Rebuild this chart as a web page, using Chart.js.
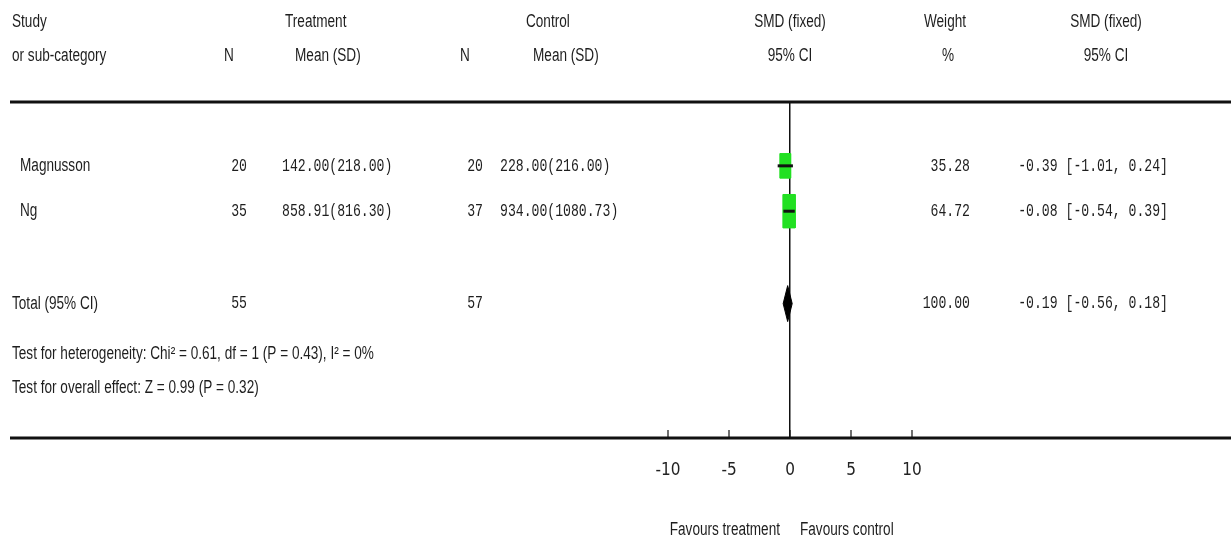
<!DOCTYPE html>
<html>
<head>
<meta charset="utf-8">
<script src="https://cdn.jsdelivr.net/npm/chart.js@4.4.0/dist/chart.umd.min.js"></script>
<style>
  html, body { margin: 0; padding: 0; background: #fff; }
  #wrap { width: 1231px; height: 546px; position: relative; }
</style>
</head>
<body>
<div id="wrap"><canvas id="forest"></canvas></div>
<script>
// ---- values ----
const studies = ['Magnusson', 'Ng'];
const treatN = [20, 35];
const treatMean = [142.00, 858.91];
const treatSD = [218.00, 816.30];
const ctrlN = [20, 37];
const ctrlMean = [228.00, 934.00];
const ctrlSD = [216.00, 1080.73];
const smd = [-0.39, -0.08];
const ciLow = [-1.01, -0.54];
const ciHigh = [0.24, 0.39];
const weights = [35.28, 64.72];

const totalN = [55, 57];
const totalWeight = 100.00;
const totalSmd = -0.19;
const totalCi = [-0.56, 0.18];
const heterogeneity = { chi2: 0.61, df: 1, p: 0.43, i2: 0 };
const overallEffect = { z: 0.99, p: 0.32 };

const xTicks = [-10, -5, 0, 5, 10];

// ---- layout (rows in y-scale units, 0 = top rule) ----
const Y_MAX = 8;
const studyRows = [1.52, 2.6];
const totalRow = 4.8;
const hetRow = 5.99;
const overallRow = 6.81;
const PX_X = (912 - 668) / 20;     // pixels per SMD unit
const PX_Y = (438 - 102) / Y_MAX;  // pixels per row unit

const INK = '#1e1e1e';
const GREEN = '#22e022';
const SANS = '18px "Liberation Sans", Arial, sans-serif';
const MONO = '18px "Liberation Mono", "DejaVu Sans Mono", monospace';
const SANS_SX = 0.755;
const MONO_SX = 0.73;

// square sized by weight, drawn as a filled polygon on the scales
function squareFor(i) {
  const hw = (9 + weights[i] * 0.05) / 2 / PX_X;
  const hh = (14 + weights[i] * 0.3) / 2 / PX_Y;
  const x = smd[i], y = studyRows[i];
  return [
    { x: x - hw, y: y - hh }, { x: x + hw, y: y - hh },
    { x: x + hw, y: y + hh }, { x: x - hw, y: y + hh }, { x: x - hw, y: y - hh }
  ];
}

const datasets = [];
studies.forEach((s, i) => {
  datasets.push({
    label: s + ' weight',
    data: squareFor(i),
    borderColor: GREEN, backgroundColor: GREEN, borderWidth: 1,
    fill: 'shape', pointRadius: 0, tension: 0, order: 3
  });
  datasets.push({
    label: s + ' CI',
    data: [{ x: ciLow[i], y: studyRows[i] }, { x: ciHigh[i], y: studyRows[i] }],
    borderColor: '#111', borderWidth: 3, fill: false, pointRadius: 0, order: 1
  });
});

const dh = 18 / PX_Y;
datasets.push({
  label: 'Total',
  data: [
    { x: totalCi[0], y: totalRow }, { x: totalSmd, y: totalRow - dh },
    { x: totalCi[1], y: totalRow }, { x: totalSmd, y: totalRow + dh },
    { x: totalCi[0], y: totalRow }
  ],
  borderColor: '#000', backgroundColor: '#000', borderWidth: 1,
  fill: 'shape', pointRadius: 0, tension: 0, order: 2
});

function txt(ctx, s, x, y, align, font, sx) {
  ctx.save();
  ctx.font = font;
  ctx.fillStyle = INK;
  ctx.textBaseline = 'middle';
  ctx.textAlign = 'left';
  const w = ctx.measureText(s).width * sx;
  const x0 = align === 'right' ? x - w : align === 'center' ? x - w / 2 : x;
  ctx.translate(x0, y);
  ctx.scale(sx, 1);
  ctx.fillText(s, 0, 0);
  ctx.restore();
}

const meanSd = (m, sd) => m.toFixed(2) + '(' + sd.toFixed(2) + ')';
const ciText = (e, lo, hi) => e.toFixed(2) + ' [' + lo.toFixed(2) + ', ' + hi.toFixed(2) + ']';

const forestTable = {
  id: 'forestTable',
  afterDraw(chart) {
    const { ctx, chartArea, scales } = chart;
    const xs = scales.x, ys = scales.y;
    const x0 = xs.getPixelForValue(0);

    // rules
    ctx.save();
    ctx.strokeStyle = '#111';
    ctx.lineWidth = 3;
    [chartArea.top, chartArea.bottom].forEach(y => {
      ctx.beginPath(); ctx.moveTo(10, y); ctx.lineTo(1231, y); ctx.stroke();
    });
    ctx.lineWidth = 1.2;
    xTicks.forEach(v => {
      const px = xs.getPixelForValue(v);
      ctx.beginPath(); ctx.moveTo(px, chartArea.bottom - 8); ctx.lineTo(px, chartArea.bottom); ctx.stroke();
    });
    ctx.restore();

    // headers
    const h1 = 22, h2 = 56;
    txt(ctx, 'Study', 12, h1, 'left', SANS, SANS_SX);
    txt(ctx, 'or sub-category', 12, h2, 'left', SANS, SANS_SX);
    txt(ctx, 'Treatment', 285, h1, 'left', SANS, SANS_SX);
    txt(ctx, 'N', 229, h2, 'center', SANS, SANS_SX);
    txt(ctx, 'Mean (SD)', 295, h2, 'left', SANS, SANS_SX);
    txt(ctx, 'Control', 526, h1, 'left', SANS, SANS_SX);
    txt(ctx, 'N', 465, h2, 'center', SANS, SANS_SX);
    txt(ctx, 'Mean (SD)', 533, h2, 'left', SANS, SANS_SX);
    txt(ctx, 'SMD (fixed)', x0, h1, 'center', SANS, SANS_SX);
    txt(ctx, '95% CI', x0, h2, 'center', SANS, SANS_SX);
    txt(ctx, 'Weight', 945, h1, 'center', SANS, SANS_SX);
    txt(ctx, '%', 948, h2, 'center', SANS, SANS_SX);
    txt(ctx, 'SMD (fixed)', 1106, h1, 'center', SANS, SANS_SX);
    txt(ctx, '95% CI', 1106, h2, 'center', SANS, SANS_SX);

    // study rows
    studies.forEach((s, i) => {
      const y = ys.getPixelForValue(studyRows[i]);
      txt(ctx, s, 20, y, 'left', SANS, SANS_SX);
      txt(ctx, String(treatN[i]), 247, y, 'right', MONO, MONO_SX);
      txt(ctx, meanSd(treatMean[i], treatSD[i]), 282, y, 'left', MONO, MONO_SX);
      txt(ctx, String(ctrlN[i]), 483, y, 'right', MONO, MONO_SX);
      txt(ctx, meanSd(ctrlMean[i], ctrlSD[i]), 500, y, 'left', MONO, MONO_SX);
      txt(ctx, weights[i].toFixed(2), 970, y, 'right', MONO, MONO_SX);
      txt(ctx, ciText(smd[i], ciLow[i], ciHigh[i]), 1168, y, 'right', MONO, MONO_SX);
    });

    // total row
    const yt = ys.getPixelForValue(totalRow);
    txt(ctx, 'Total (95% CI)', 12, yt, 'left', SANS, SANS_SX);
    txt(ctx, String(totalN[0]), 247, yt, 'right', MONO, MONO_SX);
    txt(ctx, String(totalN[1]), 483, yt, 'right', MONO, MONO_SX);
    txt(ctx, totalWeight.toFixed(2), 970, yt, 'right', MONO, MONO_SX);
    txt(ctx, ciText(totalSmd, totalCi[0], totalCi[1]), 1168, yt, 'right', MONO, MONO_SX);

    const h = heterogeneity;
    txt(ctx, 'Test for heterogeneity: Chi\u00b2 = ' + h.chi2.toFixed(2) + ', df = ' + h.df +
      ' (P = ' + h.p.toFixed(2) + '), I\u00b2 = ' + h.i2 + '%', 12, ys.getPixelForValue(hetRow), 'left', SANS, SANS_SX);
    txt(ctx, 'Test for overall effect: Z = ' + overallEffect.z.toFixed(2) + ' (P = ' + overallEffect.p.toFixed(2) + ')',
      12, ys.getPixelForValue(overallRow), 'left', SANS, SANS_SX);

    // direction labels under the axis
    txt(ctx, 'Favours treatment', x0 - 10, 530, 'right', SANS, SANS_SX);
    txt(ctx, 'Favours control', x0 + 10, 530, 'left', SANS, SANS_SX);
  }
};

new Chart(document.getElementById('forest'), {
  type: 'line',
  data: { datasets },
  options: {
    responsive: true,
    maintainAspectRatio: false,
    animation: false,
    layout: { padding: { left: 668, right: 319, top: 102, bottom: 68 } },
    plugins: { legend: { display: false }, tooltip: { enabled: false } },
    scales: {
      x: {
        type: 'linear',
        min: -10,
        max: 10,
        afterBuildTicks: s => { s.ticks = xTicks.map(v => ({ value: v })); },
        afterFit: s => { s.height = 40; },
        border: { display: false },
        grid: {
          drawTicks: false,
          color: c => (c.tick && c.tick.value === 0 ? '#111' : 'rgba(0,0,0,0)'),
          lineWidth: 1.5
        },
        ticks: {
          padding: 22,
          color: '#222',
          font: { family: '"Liberation Sans Narrow", "DejaVu Sans Condensed", "Liberation Sans", sans-serif', size: 17 },
          callback: v => String(v)
        }
      },
      y: {
        type: 'linear',
        min: 0,
        max: Y_MAX,
        reverse: true,
        display: false
      }
    }
  },
  plugins: [forestTable]
});
</script>
</body>
</html>
